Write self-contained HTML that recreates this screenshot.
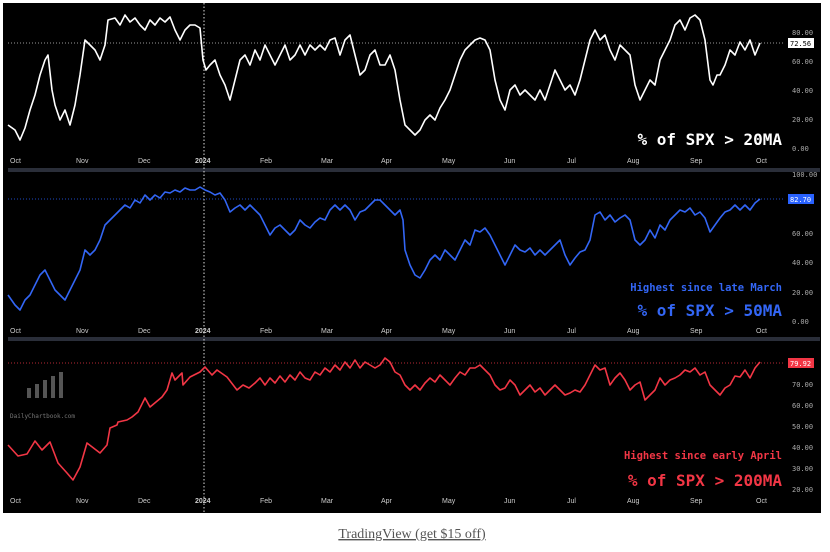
<!DOCTYPE html>
<html><head><meta charset="utf-8"><style>
html,body{margin:0;padding:0;background:#fff;width:830px;height:552px;overflow:hidden}
svg{display:block}
.ax{font:7px "DejaVu Sans Mono","Liberation Mono",monospace;fill:#aaa}
.dt{font:7px "Liberation Sans",sans-serif;fill:#ccc}
.big{font:bold 16px "DejaVu Sans Mono","Liberation Mono",monospace}
.sm{font:bold 10.5px "DejaVu Sans Mono","Liberation Mono",monospace}
</style></head><body>
<svg width="830" height="552" xmlns="http://www.w3.org/2000/svg">
<rect x="3" y="3" width="818" height="510" fill="#000"/>
<rect x="8" y="168" width="812" height="4" fill="#2a2e39"/>
<rect x="8" y="337" width="812" height="4" fill="#2a2e39"/>
<line x1="204" y1="3" x2="204" y2="513" stroke="#ddd" stroke-dasharray="1.5,2" stroke-width="1"/>
<line x1="8" y1="43" x2="785" y2="43" stroke="#ccc" stroke-dasharray="1,2" stroke-width="0.7"/>
<line x1="8" y1="199" x2="785" y2="199" stroke="#2962ff" stroke-dasharray="1,2" stroke-width="0.7"/>
<line x1="8" y1="363" x2="785" y2="363" stroke="#f23645" stroke-dasharray="1,2" stroke-width="0.7"/>
<g class="ax">
<text x="792" y="35">80.00</text><text x="792" y="64">60.00</text><text x="792" y="93">40.00</text><text x="792" y="122">20.00</text><text x="792" y="151">0.00</text>
<text x="792" y="177">100.00</text><text x="792" y="236">60.00</text><text x="792" y="265">40.00</text><text x="792" y="295">20.00</text><text x="792" y="324">0.00</text>
<text x="792" y="387">70.00</text><text x="792" y="408">60.00</text><text x="792" y="429">50.00</text><text x="792" y="450">40.00</text><text x="792" y="471">30.00</text><text x="792" y="492">20.00</text>
</g>
<rect x="788" y="38" width="26" height="10" fill="#fff"/><text x="790" y="46" class="ax" style="fill:#000">72.56</text>
<rect x="788" y="194" width="26" height="10" fill="#2962ff"/><text x="790" y="202" class="ax" style="fill:#fff">82.70</text>
<rect x="788" y="358" width="26" height="10" fill="#f23645"/><text x="790" y="366" class="ax" style="fill:#fff">79.92</text>
<g class="dt">
<text x="10" y="163">Oct</text><text x="76" y="163">Nov</text><text x="138" y="163">Dec</text><text x="195" y="163" style="font-weight:bold">2024</text><text x="260" y="163">Feb</text><text x="321" y="163">Mar</text><text x="381" y="163">Apr</text><text x="442" y="163">May</text><text x="504" y="163">Jun</text><text x="567" y="163">Jul</text><text x="627" y="163">Aug</text><text x="690" y="163">Sep</text><text x="756" y="163">Oct</text>
<text x="10" y="333">Oct</text><text x="76" y="333">Nov</text><text x="138" y="333">Dec</text><text x="195" y="333" style="font-weight:bold">2024</text><text x="260" y="333">Feb</text><text x="321" y="333">Mar</text><text x="381" y="333">Apr</text><text x="442" y="333">May</text><text x="504" y="333">Jun</text><text x="567" y="333">Jul</text><text x="627" y="333">Aug</text><text x="690" y="333">Sep</text><text x="756" y="333">Oct</text>
<text x="10" y="503">Oct</text><text x="76" y="503">Nov</text><text x="138" y="503">Dec</text><text x="195" y="503" style="font-weight:bold">2024</text><text x="260" y="503">Feb</text><text x="321" y="503">Mar</text><text x="381" y="503">Apr</text><text x="442" y="503">May</text><text x="504" y="503">Jun</text><text x="567" y="503">Jul</text><text x="627" y="503">Aug</text><text x="690" y="503">Sep</text><text x="756" y="503">Oct</text>
</g>
<polyline fill="none" stroke="#fff" stroke-width="1.6" stroke-linejoin="round" points="8,125 15,130 20,140 25,128 30,110 35,95 40,75 45,60 48,55 52,90 55,105 60,120 65,110 70,125 75,105 80,75 85,40 90,45 95,50 100,60 105,45 108,20 115,18 120,25 125,15 130,22 135,18 140,25 145,30 150,20 155,25 160,18 165,22 170,17 175,30 180,40 185,30 190,25 195,25 200,28 203,60 206,70 210,65 215,60 220,75 225,85 230,100 235,80 240,60 245,55 250,65 255,50 260,60 265,45 270,55 275,65 280,55 285,45 290,60 295,55 300,45 305,55 310,45 315,50 320,45 325,50 330,40 335,38 340,55 345,40 350,35 355,55 360,75 365,70 370,55 375,50 380,65 385,65 390,55 395,70 400,100 405,125 410,130 415,135 420,130 425,120 430,115 435,120 440,108 445,100 450,90 455,75 460,60 465,50 470,45 475,40 480,38 485,40 490,50 495,80 500,100 505,110 510,90 515,85 520,95 525,90 530,95 535,100 540,90 545,100 550,85 555,70 560,80 565,90 570,85 575,95 580,80 585,60 590,40 595,30 600,40 605,35 610,50 615,60 620,45 625,50 630,55 635,85 640,100 645,90 650,80 655,85 660,60 665,50 670,40 675,25 680,20 685,30 690,18 695,15 700,20 705,40 710,80 713,85 717,75 720,75 725,65 730,50 735,55 740,42 745,50 750,40 755,55 760,43"/>
<polyline fill="none" stroke="#3366f5" stroke-width="1.6" stroke-linejoin="round" points="8,295 15,305 20,310 25,300 30,295 35,285 40,275 45,270 50,280 55,290 60,295 65,300 70,290 75,280 80,270 85,250 90,255 95,250 100,240 105,225 110,220 115,215 120,210 125,205 130,208 135,200 140,203 145,195 150,200 155,195 160,198 165,192 170,193 175,190 180,192 185,188 190,190 195,190 200,187 205,190 210,192 215,195 220,193 225,200 230,212 235,208 240,205 245,210 250,205 255,210 260,215 265,225 270,235 275,228 280,225 285,230 290,235 295,230 300,220 305,225 310,228 315,222 320,218 325,220 330,210 335,205 340,210 345,205 350,210 355,220 360,212 365,210 370,205 375,200 380,200 385,205 390,210 395,215 400,210 403,220 405,250 410,265 415,275 420,278 425,270 430,260 435,255 440,260 445,250 450,255 455,260 460,250 465,240 470,245 475,230 480,232 485,228 490,235 495,245 500,255 505,265 510,255 515,245 520,250 525,252 530,248 535,255 540,250 545,255 550,250 555,245 560,240 565,255 570,265 575,258 580,252 585,250 590,240 595,215 600,212 605,220 610,215 615,222 620,218 625,215 630,220 635,240 640,245 645,240 650,230 655,238 660,225 665,230 670,220 675,215 680,210 685,212 690,208 695,215 700,212 705,218 710,232 715,225 720,218 725,212 730,210 735,205 740,210 745,205 750,210 755,203 760,199"/>
<polyline fill="none" stroke="#f23645" stroke-width="1.6" stroke-linejoin="round" points="8,445 18,456 27,454 35,441 42,450 50,442 58,463 67,473 73,480 80,467 87,443 100,453 107,445 110,428 117,425 118,422 127,420 132,417 138,412 145,398 150,407 162,397 167,390 172,373 175,380 182,373 183,385 190,377 200,372 205,367 212,375 217,370 227,377 237,390 243,385 249,388 255,383 260,378 265,385 270,378 275,383 280,376 285,382 290,375 295,380 300,372 305,378 310,380 315,372 320,375 325,368 330,372 335,365 340,370 345,362 350,368 355,360 360,368 365,362 370,365 375,368 380,365 385,358 390,362 395,372 400,375 405,385 410,390 415,385 420,390 425,383 430,378 435,382 440,375 445,380 450,385 455,378 460,372 465,375 470,368 475,368 480,365 485,370 490,375 495,385 500,390 505,388 510,380 515,385 520,395 525,390 530,385 535,392 540,388 545,395 550,390 555,385 560,390 565,395 570,393 575,390 580,392 585,385 590,375 595,365 600,370 605,368 610,385 615,378 620,373 625,380 630,390 635,385 640,382 645,400 650,395 655,390 660,378 665,385 670,380 675,378 680,375 685,370 690,372 695,368 700,375 705,372 710,385 715,390 720,395 725,388 730,385 735,376 740,377 745,370 750,378 755,368 760,362"/>
<g fill="#555"><rect x="27" y="388" width="4" height="10"/><rect x="35" y="384" width="4" height="14"/><rect x="43" y="380" width="4" height="18"/><rect x="51" y="376" width="4" height="22"/><rect x="59" y="372" width="4" height="26"/></g>
<text x="10" y="418" style="font:6px 'DejaVu Sans Mono',monospace;fill:#777">DailyChartbook.com</text>
<text x="782" y="145" text-anchor="end" class="big" style="fill:#fff">% of SPX &gt; 20MA</text>
<text x="782" y="291" text-anchor="end" class="sm" style="fill:#3366f5">Highest since late March</text>
<text x="782" y="316" text-anchor="end" class="big" style="fill:#3366f5">% of SPX &gt; 50MA</text>
<text x="782" y="459" text-anchor="end" class="sm" style="fill:#f23645">Highest since early April</text>
<text x="782" y="486" text-anchor="end" class="big" style="fill:#f23645">% of SPX &gt; 200MA</text>
<text x="412" y="538" text-anchor="middle" style="font:14px 'Liberation Serif',serif;fill:#555;text-decoration:underline">TradingView (get $15 off)</text>
</svg>
</body></html>
